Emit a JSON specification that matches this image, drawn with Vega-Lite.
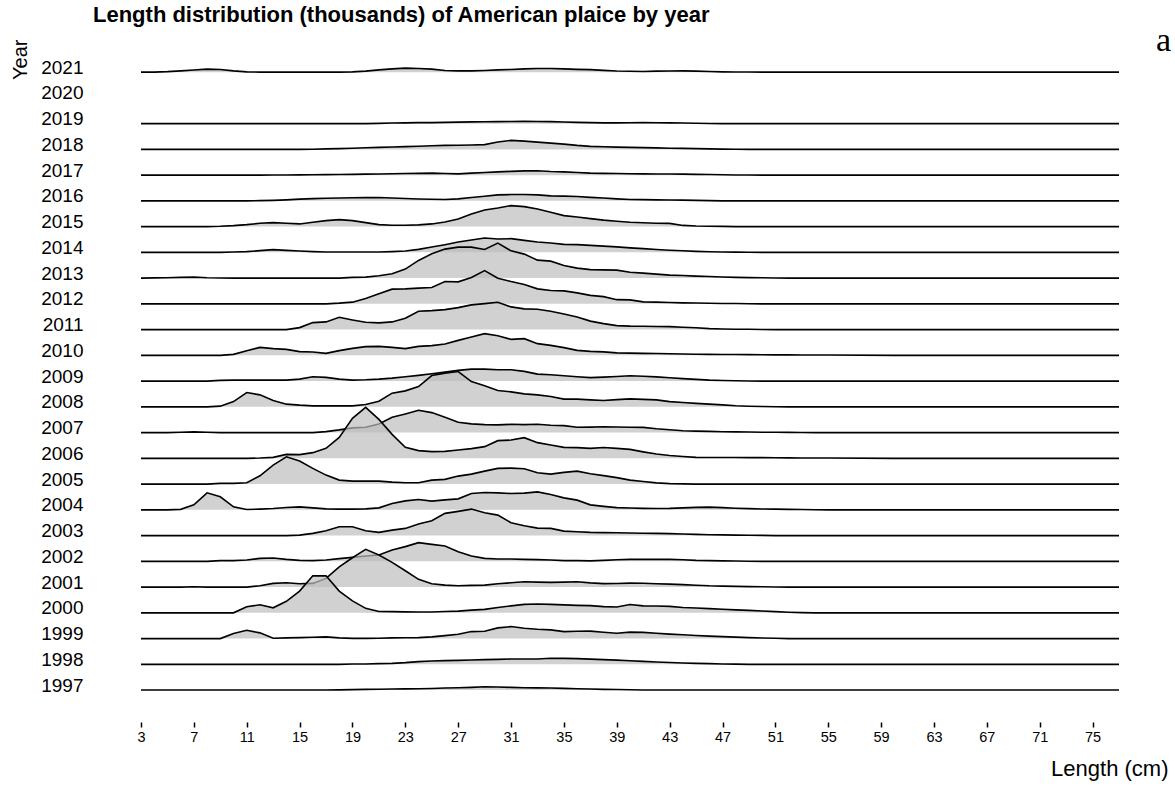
{
"$schema":"https://vega.github.io/schema/vega-lite/v6.json",
"width":978,"height":689,
"autosize":{"type":"none"},
"padding":{"left":141,"top":33,"right":56,"bottom":64},
"background":"white",
"config":{"view":{"stroke":null},"font":"Liberation Sans"},
"title":{"text":"Length distribution (thousands) of American plaice by year","anchor":"start","frame":"group","font":"Liberation Sans","fontSize":22,"fontWeight":"bold","color":"black","dx":-48,"dy":14,"offset":10},
"data":{"values":[
{"len":3,"2021":0,"2019":0,"2018":0,"2017":0,"2016":0,"2015":0,"2014":0,"2013":0,"2012":0,"2011":0,"2010":0,"2009":0,"2008":0,"2007":0,"2006":0,"2005":0,"2004":0,"2003":0,"2002":0,"2001":0,"2000":0,"1999":0,"1998":0,"1997":0},
{"len":4,"2021":0,"2019":0,"2018":0,"2017":0,"2016":0,"2015":0,"2014":0,"2013":0.2,"2012":0,"2011":0,"2010":0,"2009":0,"2008":0,"2007":0,"2006":0,"2005":0,"2004":0,"2003":0,"2002":0,"2001":0,"2000":0,"1999":0,"1998":0,"1997":0},
{"len":5,"2021":0.5,"2019":0,"2018":0,"2017":0,"2016":0,"2015":0,"2014":0,"2013":0.4,"2012":0,"2011":0,"2010":0,"2009":0,"2008":0,"2007":0,"2006":0,"2005":0,"2004":0,"2003":0,"2002":0,"2001":0,"2000":0,"1999":0,"1998":0,"1997":0},
{"len":6,"2021":1.3,"2019":0,"2018":0,"2017":0,"2016":0,"2015":0,"2014":0,"2013":0.7,"2012":0,"2011":0,"2010":0,"2009":0,"2008":0,"2007":0.3,"2006":0,"2005":0,"2004":0.5,"2003":0,"2002":0,"2001":0,"2000":0,"1999":0,"1998":0,"1997":0},
{"len":7,"2021":2.2,"2019":0,"2018":0,"2017":0,"2016":0,"2015":0,"2014":0,"2013":1,"2012":0,"2011":0,"2010":0,"2009":0,"2008":0,"2007":0.7,"2006":0,"2005":0,"2004":5,"2003":0,"2002":0,"2001":0.3,"2000":0,"1999":0,"1998":0,"1997":0},
{"len":8,"2021":3,"2019":0,"2018":0,"2017":0,"2016":0,"2015":0,"2014":0,"2013":0.4,"2012":0,"2011":0,"2010":0,"2009":0,"2008":0,"2007":0.3,"2006":0,"2005":0,"2004":17,"2003":0,"2002":0,"2001":0,"2000":0,"1999":0,"1998":0,"1997":0},
{"len":9,"2021":2.7,"2019":0,"2018":0,"2017":0,"2016":0,"2015":0.3,"2014":0,"2013":0.1,"2012":0,"2011":0,"2010":0,"2009":0.7,"2008":0.7,"2007":0,"2006":0,"2005":0.7,"2004":13,"2003":0,"2002":0.7,"2001":0,"2000":0,"1999":0,"1998":0,"1997":0},
{"len":10,"2021":1.3,"2019":0,"2018":0,"2017":0,"2016":0,"2015":1,"2014":0.3,"2013":0,"2012":0,"2011":0,"2010":1,"2009":1,"2008":5.3,"2007":0,"2006":0,"2005":0.7,"2004":3,"2003":0,"2002":0.7,"2001":0,"2000":0,"1999":5,"1998":0,"1997":0},
{"len":11,"2021":0.3,"2019":0,"2018":0,"2017":0,"2016":0,"2015":2,"2014":0.7,"2013":0,"2012":0,"2011":0,"2010":4.7,"2009":1,"2008":14.3,"2007":0,"2006":0,"2005":1.3,"2004":0.3,"2003":0,"2002":1.3,"2001":0,"2000":6,"1999":8.3,"1998":0,"1997":0},
{"len":12,"2021":0,"2019":0,"2018":0,"2017":0,"2016":0.2,"2015":3.3,"2014":1.7,"2013":0,"2012":0,"2011":0,"2010":8,"2009":1,"2008":12,"2007":0,"2006":0.3,"2005":8.3,"2004":0.7,"2003":0,"2002":3,"2001":1.3,"2000":8,"1999":5.7,"1998":0,"1997":0},
{"len":13,"2021":0,"2019":0,"2018":0,"2017":0.1,"2016":0.5,"2015":4,"2014":2.7,"2013":0,"2012":0,"2011":0,"2010":6.7,"2009":1,"2008":6.3,"2007":0,"2006":1,"2005":19,"2004":1.3,"2003":0,"2002":3.3,"2001":3.7,"2000":5,"1999":0.3,"1998":0,"1997":0},
{"len":14,"2021":0,"2019":0,"2018":0,"2017":0.2,"2016":1,"2015":3.3,"2014":2,"2013":0,"2012":0,"2011":0,"2010":6,"2009":1,"2008":2.7,"2007":0,"2006":4,"2005":27.3,"2004":2.3,"2003":0,"2002":2,"2001":4.3,"2000":11.5,"1999":0.7,"1998":0,"1997":0},
{"len":15,"2021":0,"2019":0,"2018":0,"2017":0.3,"2016":1.7,"2015":2.7,"2014":1.3,"2013":0,"2012":0,"2011":2,"2010":3.7,"2009":2,"2008":1.7,"2007":0,"2006":3.7,"2005":23,"2004":3,"2003":0.5,"2002":1,"2001":3.3,"2000":21.7,"1999":1,"1998":0,"1997":0},
{"len":16,"2021":0,"2019":0,"2018":0.2,"2017":0.4,"2016":2.2,"2015":4.3,"2014":0.7,"2013":0,"2012":0,"2011":7,"2010":3.3,"2009":4.3,"2008":1,"2007":0,"2006":5.7,"2005":15.7,"2004":2,"2003":2.2,"2002":0.7,"2001":3.7,"2000":37,"1999":1.3,"1998":0,"1997":0},
{"len":17,"2021":0,"2019":0,"2018":0.5,"2017":0.5,"2016":2.6,"2015":6,"2014":0.3,"2013":0,"2012":0,"2011":7.7,"2010":2,"2009":3.7,"2008":1,"2007":1,"2006":10,"2005":9,"2004":1,"2003":4.8,"2002":1.3,"2001":8.7,"2000":37,"1999":1.7,"1998":0,"1997":0},
{"len":18,"2021":0,"2019":0,"2018":0.8,"2017":0.6,"2016":2.9,"2015":7,"2014":0.3,"2013":0,"2012":0.7,"2011":12.3,"2010":4.7,"2009":2,"2008":1,"2007":2.7,"2006":21,"2005":4,"2004":0.7,"2003":8.8,"2002":2.7,"2001":20.3,"2000":21.7,"1999":0.7,"1998":0,"1997":0.2},
{"len":19,"2021":0.3,"2019":0,"2018":1.2,"2017":0.8,"2016":3.1,"2015":6,"2014":0.3,"2013":0.7,"2012":1.7,"2011":9.7,"2010":7,"2009":1,"2008":1,"2007":4.7,"2006":40,"2005":3,"2004":0.7,"2003":8.8,"2002":4,"2001":29.3,"2000":12,"1999":0.2,"1998":0.3,"1997":0.4},
{"len":20,"2021":1,"2019":0,"2018":1.7,"2017":1,"2016":3.2,"2015":4,"2014":0.3,"2013":1,"2012":5.3,"2011":7.3,"2010":8.7,"2009":1.3,"2008":2.3,"2007":5.3,"2006":51,"2005":3,"2004":1,"2003":4.8,"2002":5.3,"2001":37.7,"2000":4.5,"1999":0.2,"1998":0.4,"1997":0.7},
{"len":21,"2021":2.3,"2019":0.3,"2018":2,"2017":1.2,"2016":3.3,"2015":2,"2014":0.3,"2013":2.3,"2012":10,"2011":6.7,"2010":9,"2009":2,"2008":5.7,"2007":8.7,"2006":39,"2005":3,"2004":2,"2003":3.2,"2002":6.3,"2001":32,"2000":1.3,"1999":0.3,"1998":0.7,"1997":0.8},
{"len":22,"2021":3.3,"2019":0.6,"2018":2.4,"2017":1.4,"2016":2.8,"2015":1.3,"2014":0.7,"2013":4.3,"2012":14.7,"2011":7.7,"2010":8,"2009":3,"2008":13.7,"2007":15.3,"2006":24,"2005":2,"2004":6.3,"2003":5.5,"2002":11.3,"2001":24.7,"2000":1.2,"1999":0.7,"1998":1,"1997":1},
{"len":23,"2021":4,"2019":0.8,"2018":2.8,"2017":1.6,"2016":2.3,"2015":1.3,"2014":1.3,"2013":9,"2012":15,"2011":11.3,"2010":6.7,"2009":4.3,"2008":16,"2007":18.7,"2006":11,"2005":1.3,"2004":9,"2003":7.2,"2002":14.7,"2001":16.3,"2000":1,"1999":0.8,"1998":1.7,"1997":1.2},
{"len":24,"2021":3.7,"2019":1,"2018":3.2,"2017":1.8,"2016":1.9,"2015":1.7,"2014":3,"2013":17.7,"2012":15.7,"2011":18.3,"2010":9,"2009":5.7,"2008":20.3,"2007":22.3,"2006":7.7,"2005":1.3,"2004":10.3,"2003":11.5,"2002":18.7,"2001":7.7,"2000":0.8,"1999":1,"1998":2.7,"1997":1.3},
{"len":25,"2021":3,"2019":1,"2018":3.7,"2017":2,"2016":1.6,"2015":2.7,"2014":5.3,"2013":24.3,"2012":16.3,"2011":19,"2010":9.7,"2009":7.3,"2008":31.3,"2007":20,"2006":6.7,"2005":4,"2004":8.7,"2003":14.8,"2002":17,"2001":3.3,"2000":0.8,"1999":1.7,"1998":3.3,"1997":1.6},
{"len":26,"2021":1.7,"2019":1.3,"2018":4,"2017":1.6,"2016":1.3,"2015":4.7,"2014":7.7,"2013":29,"2012":22.3,"2011":20,"2010":11.3,"2009":9,"2008":33.7,"2007":15.3,"2006":7,"2005":4.7,"2004":10,"2003":22.2,"2002":15.3,"2001":2,"2000":1.3,"1999":3,"1998":3.7,"1997":2},
{"len":27,"2021":1.3,"2019":1.5,"2018":4.2,"2017":1.3,"2016":2,"2015":7.7,"2014":10.3,"2013":31,"2012":22,"2011":22,"2010":15,"2009":10.7,"2008":35.3,"2007":10.3,"2006":8.3,"2005":8,"2004":11,"2003":24.2,"2002":9.7,"2001":1.3,"2000":1.7,"1999":4.3,"1998":4,"1997":2.3},
{"len":28,"2021":1.3,"2019":1.8,"2018":4.4,"2017":2,"2016":3.3,"2015":12.7,"2014":12.3,"2013":31,"2012":26.3,"2011":24.7,"2010":18.3,"2009":12,"2008":25.3,"2007":8.7,"2006":9.7,"2005":10,"2004":16.3,"2003":26.5,"2002":5.3,"2001":1.7,"2000":2.7,"1999":7,"1998":4.3,"1997":2.7},
{"len":29,"2021":1.7,"2019":1.9,"2018":4.8,"2017":2.7,"2016":4.7,"2015":16.7,"2014":14.3,"2013":28.7,"2012":33.3,"2011":26,"2010":21.7,"2009":12,"2008":21,"2007":8,"2006":11.7,"2005":13,"2004":17.3,"2003":22.8,"2002":3,"2001":2,"2000":3.5,"1999":7.3,"1998":4.7,"1997":3.3},
{"len":30,"2021":2.3,"2019":2,"2018":7.3,"2017":3.3,"2016":6,"2015":18.7,"2014":13.3,"2013":35,"2012":25.7,"2011":27.3,"2010":19.7,"2009":11.3,"2008":16.3,"2007":7.7,"2006":17.7,"2005":15.7,"2004":17,"2003":20.5,"2002":2.3,"2001":3.3,"2000":5.3,"1999":10.7,"1998":5,"1997":3},
{"len":31,"2021":2.7,"2019":2.1,"2018":9,"2017":3.8,"2016":6.3,"2015":21,"2014":13.7,"2013":27.3,"2012":22.3,"2011":22.7,"2010":16,"2009":11.3,"2008":15,"2007":8.3,"2006":18.3,"2005":16,"2004":16.3,"2003":12.8,"2002":2.3,"2001":4.3,"2000":7,"1999":12,"1998":5.3,"1997":2.7},
{"len":32,"2021":3.3,"2019":2.3,"2018":8.3,"2017":4.3,"2016":6.3,"2015":20,"2014":12,"2013":24,"2012":19.3,"2011":20.7,"2010":16.7,"2009":9.7,"2008":13,"2007":8,"2006":20.7,"2005":15.3,"2004":16.7,"2003":9.8,"2002":2,"2001":5.3,"2000":8.5,"1999":10.3,"1998":5.3,"1997":2.3},
{"len":33,"2021":3.7,"2019":2.2,"2018":7.3,"2017":4.3,"2016":6,"2015":17.7,"2014":10.3,"2013":18,"2012":15,"2011":20.3,"2010":11.7,"2009":7,"2008":12,"2007":8.3,"2006":15.7,"2005":11.3,"2004":18,"2003":7.5,"2002":1.7,"2001":5,"2000":8.8,"1999":9.3,"1998":5.3,"1997":2.2},
{"len":34,"2021":3.7,"2019":2,"2018":6.3,"2017":3.6,"2016":5,"2015":14.3,"2014":9.3,"2013":17,"2012":13.3,"2011":18.3,"2010":10,"2009":6.3,"2008":10.3,"2007":7.3,"2006":13.3,"2005":10,"2004":15.3,"2003":7.2,"2002":1.3,"2001":4.7,"2000":8.5,"1999":8.7,"1998":6,"1997":2},
{"len":35,"2021":3.3,"2019":1.7,"2018":5.3,"2017":3.3,"2016":4.7,"2015":11,"2014":8,"2013":12.7,"2012":13,"2011":15.7,"2010":7.7,"2009":5.3,"2008":7.7,"2007":7,"2006":11,"2005":11.7,"2004":12,"2003":4.5,"2002":0.7,"2001":5,"2000":8,"1999":7,"1998":6,"1997":1.7},
{"len":36,"2021":2.8,"2019":1.3,"2018":4,"2017":2.7,"2016":4.3,"2015":9.7,"2014":7.7,"2013":10,"2012":11,"2011":12.7,"2010":5,"2009":4.3,"2008":7.7,"2007":5.3,"2006":10.7,"2005":13,"2004":9.7,"2003":3.8,"2002":0.7,"2001":5.3,"2000":7.5,"1999":7.3,"1998":5.7,"1997":1.3},
{"len":37,"2021":2.5,"2019":1,"2018":3,"2017":2,"2016":3.5,"2015":8,"2014":7,"2013":8.5,"2012":8.5,"2011":8.5,"2010":4,"2009":3.5,"2008":7,"2007":5.5,"2006":10,"2005":10.3,"2004":5,"2003":3.2,"2002":0.5,"2001":4.2,"2000":7.2,"1999":7.5,"1998":5.2,"1997":1},
{"len":38,"2021":1.8,"2019":0.8,"2018":2.7,"2017":1.8,"2016":2.8,"2015":6.5,"2014":6.2,"2013":8.2,"2012":7.2,"2011":6,"2010":3.5,"2009":4,"2008":6.4,"2007":5.8,"2006":10.8,"2005":8.5,"2004":3.5,"2003":3,"2002":1,"2001":3.5,"2000":6.2,"1999":6.4,"1998":4.7,"1997":0.7},
{"len":39,"2021":1.2,"2019":0.8,"2018":2.3,"2017":1.6,"2016":2,"2015":5.3,"2014":5.5,"2013":8,"2012":4.2,"2011":4,"2010":2.5,"2009":4.6,"2008":7.2,"2007":5.6,"2006":10,"2005":6.5,"2004":2.2,"2003":2.8,"2002":1.6,"2001":3.6,"2000":5.8,"1999":5.4,"1998":4.2,"1997":0.5},
{"len":40,"2021":0.9,"2019":0.9,"2018":2,"2017":1.4,"2016":1.4,"2015":4.3,"2014":4.5,"2013":5.8,"2012":4,"2011":3.5,"2010":2.2,"2009":5.3,"2008":8,"2007":5.4,"2006":9,"2005":4,"2004":1.8,"2003":2.6,"2002":2,"2001":4,"2000":8.3,"1999":6.5,"1998":3.6,"1997":0.3},
{"len":41,"2021":0.7,"2019":1,"2018":1.8,"2017":1.3,"2016":1.2,"2015":3.8,"2014":3.7,"2013":5,"2012":2,"2011":3.3,"2010":2,"2009":4.8,"2008":7.5,"2007":5.2,"2006":6.5,"2005":2.6,"2004":1.5,"2003":2.4,"2002":2,"2001":3.8,"2000":7,"1999":6.2,"1998":3,"1997":0.1},
{"len":42,"2021":1,"2019":0.9,"2018":1.5,"2017":1.2,"2016":1,"2015":3.4,"2014":2.8,"2013":4,"2012":1.7,"2011":3.1,"2010":1.8,"2009":4.2,"2008":7,"2007":3.8,"2006":4.3,"2005":1.2,"2004":1.3,"2003":2.2,"2002":2,"2001":3.4,"2000":6.8,"1999":5.4,"1998":2.4,"1997":0},
{"len":43,"2021":1.2,"2019":0.8,"2018":1.2,"2017":1.1,"2016":0.8,"2015":3.2,"2014":2.1,"2013":3,"2012":1.4,"2011":3,"2010":1.6,"2009":3.3,"2008":5.2,"2007":2.8,"2006":2.8,"2005":0.5,"2004":1.5,"2003":2,"2002":2,"2001":3,"2000":6.5,"1999":4.5,"1998":1.8,"1997":0},
{"len":44,"2021":1.3,"2019":0.7,"2018":1,"2017":1,"2016":0.7,"2015":1.2,"2014":1.6,"2013":2.6,"2012":1,"2011":2.4,"2010":1.3,"2009":2.5,"2008":4.3,"2007":1.8,"2006":1.8,"2005":0.2,"2004":2,"2003":1.6,"2002":1.6,"2001":2.5,"2000":5.3,"1999":3.8,"1998":1.3,"1997":0},
{"len":45,"2021":1,"2019":0.4,"2018":0.8,"2017":0.8,"2016":0.5,"2015":0.6,"2014":1,"2013":2,"2012":0.8,"2011":1.8,"2010":1.1,"2009":1.7,"2008":3.5,"2007":1.5,"2006":1,"2005":0,"2004":2.5,"2003":1.2,"2002":1,"2001":1.9,"2000":4.8,"1999":3.1,"1998":1,"1997":0},
{"len":46,"2021":0.6,"2019":0.2,"2018":0.5,"2017":0.6,"2016":0.2,"2015":0.4,"2014":0.6,"2013":1.6,"2012":0.6,"2011":1,"2010":1,"2009":1,"2008":2.7,"2007":1.2,"2006":0.9,"2005":0,"2004":2.7,"2003":0.9,"2002":0.7,"2001":1.3,"2000":4.2,"1999":2.5,"1998":0.7,"1997":0},
{"len":47,"2021":0.3,"2019":0,"2018":0.3,"2017":0.4,"2016":0,"2015":0.2,"2014":0.3,"2013":1.1,"2012":0.4,"2011":0.6,"2010":0.9,"2009":0.6,"2008":2,"2007":0.9,"2006":0.8,"2005":0,"2004":2.2,"2003":0.7,"2002":0.5,"2001":1,"2000":3.6,"1999":2,"1998":0.4,"1997":0},
{"len":48,"2021":0.2,"2019":0,"2018":0.1,"2017":0.2,"2016":0,"2015":0,"2014":0.2,"2013":0.7,"2012":0.3,"2011":0.4,"2010":0.8,"2009":0.3,"2008":1.1,"2007":0.7,"2006":0.8,"2005":0,"2004":1.6,"2003":0.5,"2002":0.3,"2001":0.7,"2000":3,"1999":1.5,"1998":0.2,"1997":0},
{"len":49,"2021":0.1,"2019":0,"2018":0,"2017":0.1,"2016":0,"2015":0,"2014":0.1,"2013":0.5,"2012":0.1,"2011":0.3,"2010":0.7,"2009":0.1,"2008":0.6,"2007":0.6,"2006":0.7,"2005":0,"2004":1.2,"2003":0.3,"2002":0.1,"2001":0.5,"2000":2.5,"1999":1,"1998":0,"1997":0},
{"len":50,"2021":0,"2019":0,"2018":0,"2017":0,"2016":0,"2015":0,"2014":0,"2013":0.3,"2012":0,"2011":0.1,"2010":0.6,"2009":0,"2008":0.3,"2007":0.4,"2006":0.7,"2005":0,"2004":0.9,"2003":0.2,"2002":0,"2001":0.3,"2000":1.8,"1999":0.6,"1998":0,"1997":0},
{"len":51,"2021":0,"2019":0,"2018":0,"2017":0,"2016":0,"2015":0,"2014":0,"2013":0.1,"2012":0,"2011":0,"2010":0.5,"2009":0,"2008":0.1,"2007":0.3,"2006":0.6,"2005":0,"2004":0.7,"2003":0,"2002":0,"2001":0.1,"2000":1.2,"1999":0.3,"1998":0,"1997":0},
{"len":52,"2021":0,"2019":0,"2018":0,"2017":0,"2016":0,"2015":0,"2014":0,"2013":0,"2012":0,"2011":0,"2010":0.5,"2009":0,"2008":0,"2007":0.2,"2006":0.5,"2005":0,"2004":0.5,"2003":0,"2002":0,"2001":0,"2000":0.6,"1999":0,"1998":0,"1997":0},
{"len":53,"2021":0,"2019":0,"2018":0,"2017":0,"2016":0,"2015":0,"2014":0,"2013":0,"2012":0,"2011":0,"2010":0.4,"2009":0,"2008":0,"2007":0.1,"2006":0.4,"2005":0,"2004":0.3,"2003":0,"2002":0,"2001":0,"2000":0.2,"1999":0,"1998":0,"1997":0},
{"len":54,"2021":0,"2019":0,"2018":0,"2017":0,"2016":0,"2015":0,"2014":0,"2013":0,"2012":0,"2011":0,"2010":0.4,"2009":0,"2008":0,"2007":0,"2006":0.4,"2005":0,"2004":0.1,"2003":0,"2002":0,"2001":0,"2000":0,"1999":0,"1998":0,"1997":0},
{"len":55,"2021":0,"2019":0,"2018":0,"2017":0,"2016":0,"2015":0,"2014":0,"2013":0,"2012":0,"2011":0,"2010":0.3,"2009":0,"2008":0,"2007":0,"2006":0.3,"2005":0,"2004":0,"2003":0,"2002":0,"2001":0,"2000":0,"1999":0,"1998":0,"1997":0},
{"len":60,"2021":0,"2019":0,"2018":0,"2017":0,"2016":0,"2015":0,"2014":0,"2013":0,"2012":0,"2011":0,"2010":0,"2009":0,"2008":0,"2007":0,"2006":0,"2005":0,"2004":0,"2003":0,"2002":0,"2001":0,"2000":0,"1999":0,"1998":0,"1997":0},
{"len":77,"2021":0,"2019":0,"2018":0,"2017":0,"2016":0,"2015":0,"2014":0,"2013":0,"2012":0,"2011":0,"2010":0,"2009":0,"2008":0,"2007":0,"2006":0,"2005":0,"2004":0,"2003":0,"2002":0,"2001":0,"2000":0,"1999":0,"1998":0,"1997":0}
]},
"transform":[
{"fold":["2021","2019","2018","2017","2016","2015","2014","2013","2012","2011","2010","2009","2008","2007","2006","2005","2004","2003","2002","2001","2000","1999","1998","1997"],"as":["yr","n"]},
{"calculate":"toNumber(datum.yr)","as":"year"},
{"calculate":"datum.year + datum.n/25.75","as":"top"}
],
"layer":[
{"encoding":{
"x":{"field":"len","type":"quantitative","scale":{"domain":[3,77],"nice":false,"zero":false},
"axis":{"values":[3,7,11,15,19,23,27,31,35,39,43,47,51,55,59,63,67,71,75],"domain":false,"grid":false,"tickSize":5,"tickWidth":1.5,"tickColor":"black","labelFontSize":14.5,"labelColor":"black","labelPadding":3,"labelFlush":false,"labelOverlap":false,"title":"Length (cm)","titleFontSize":22,"titleFontWeight":"normal","titleColor":"black","titleX":1027,"titleY":46,"titleAlign":"right","titleBaseline":"middle"}},
"y":{"field":"top","type":"quantitative","scale":{"domain":[1995.76,2022.52],"nice":false,"zero":false},
"axis":{"values":[1997,1998,1999,2000,2001,2002,2003,2004,2005,2006,2007,2008,2009,2010,2011,2012,2013,2014,2015,2016,2017,2018,2019,2020,2021],"format":"d","domain":false,"grid":false,"ticks":false,"tickSize":0,"labelPadding":58,"labelFontSize":19,"labelColor":"black","labelOffset":-5,"labelFlush":false,"labelOverlap":false,"title":"Year","titleFontSize":20,"titleFontWeight":"normal","titleColor":"black","titleAngle":270,"titleX":-121,"titleY":6,"titleAlign":"right","titleBaseline":"middle"}}
},
"layer":[
{"transform":[{"filter":"datum.yr==='2021'"}],"layer":[{"mark":{"type":"area","fill":"#bebebe","fillOpacity":0.7},"encoding":{"y2":{"field":"year"}}},{"mark":{"type":"line","color":"black","strokeWidth":1.6}}]},
{"transform":[{"filter":"datum.yr==='2019'"}],"layer":[{"mark":{"type":"area","fill":"#bebebe","fillOpacity":0.7},"encoding":{"y2":{"field":"year"}}},{"mark":{"type":"line","color":"black","strokeWidth":1.6}}]},
{"transform":[{"filter":"datum.yr==='2018'"}],"layer":[{"mark":{"type":"area","fill":"#bebebe","fillOpacity":0.7},"encoding":{"y2":{"field":"year"}}},{"mark":{"type":"line","color":"black","strokeWidth":1.6}}]},
{"transform":[{"filter":"datum.yr==='2017'"}],"layer":[{"mark":{"type":"area","fill":"#bebebe","fillOpacity":0.7},"encoding":{"y2":{"field":"year"}}},{"mark":{"type":"line","color":"black","strokeWidth":1.6}}]},
{"transform":[{"filter":"datum.yr==='2016'"}],"layer":[{"mark":{"type":"area","fill":"#bebebe","fillOpacity":0.7},"encoding":{"y2":{"field":"year"}}},{"mark":{"type":"line","color":"black","strokeWidth":1.6}}]},
{"transform":[{"filter":"datum.yr==='2015'"}],"layer":[{"mark":{"type":"area","fill":"#bebebe","fillOpacity":0.7},"encoding":{"y2":{"field":"year"}}},{"mark":{"type":"line","color":"black","strokeWidth":1.6}}]},
{"transform":[{"filter":"datum.yr==='2014'"}],"layer":[{"mark":{"type":"area","fill":"#bebebe","fillOpacity":0.7},"encoding":{"y2":{"field":"year"}}},{"mark":{"type":"line","color":"black","strokeWidth":1.6}}]},
{"transform":[{"filter":"datum.yr==='2013'"}],"layer":[{"mark":{"type":"area","fill":"#bebebe","fillOpacity":0.7},"encoding":{"y2":{"field":"year"}}},{"mark":{"type":"line","color":"black","strokeWidth":1.6}}]},
{"transform":[{"filter":"datum.yr==='2012'"}],"layer":[{"mark":{"type":"area","fill":"#bebebe","fillOpacity":0.7},"encoding":{"y2":{"field":"year"}}},{"mark":{"type":"line","color":"black","strokeWidth":1.6}}]},
{"transform":[{"filter":"datum.yr==='2011'"}],"layer":[{"mark":{"type":"area","fill":"#bebebe","fillOpacity":0.7},"encoding":{"y2":{"field":"year"}}},{"mark":{"type":"line","color":"black","strokeWidth":1.6}}]},
{"transform":[{"filter":"datum.yr==='2010'"}],"layer":[{"mark":{"type":"area","fill":"#bebebe","fillOpacity":0.7},"encoding":{"y2":{"field":"year"}}},{"mark":{"type":"line","color":"black","strokeWidth":1.6}}]},
{"transform":[{"filter":"datum.yr==='2009'"}],"layer":[{"mark":{"type":"area","fill":"#bebebe","fillOpacity":0.7},"encoding":{"y2":{"field":"year"}}},{"mark":{"type":"line","color":"black","strokeWidth":1.6}}]},
{"transform":[{"filter":"datum.yr==='2008'"}],"layer":[{"mark":{"type":"area","fill":"#bebebe","fillOpacity":0.7},"encoding":{"y2":{"field":"year"}}},{"mark":{"type":"line","color":"black","strokeWidth":1.6}}]},
{"transform":[{"filter":"datum.yr==='2007'"}],"layer":[{"mark":{"type":"area","fill":"#bebebe","fillOpacity":0.7},"encoding":{"y2":{"field":"year"}}},{"mark":{"type":"line","color":"black","strokeWidth":1.6}}]},
{"transform":[{"filter":"datum.yr==='2006'"}],"layer":[{"mark":{"type":"area","fill":"#bebebe","fillOpacity":0.7},"encoding":{"y2":{"field":"year"}}},{"mark":{"type":"line","color":"black","strokeWidth":1.6}}]},
{"transform":[{"filter":"datum.yr==='2005'"}],"layer":[{"mark":{"type":"area","fill":"#bebebe","fillOpacity":0.7},"encoding":{"y2":{"field":"year"}}},{"mark":{"type":"line","color":"black","strokeWidth":1.6}}]},
{"transform":[{"filter":"datum.yr==='2004'"}],"layer":[{"mark":{"type":"area","fill":"#bebebe","fillOpacity":0.7},"encoding":{"y2":{"field":"year"}}},{"mark":{"type":"line","color":"black","strokeWidth":1.6}}]},
{"transform":[{"filter":"datum.yr==='2003'"}],"layer":[{"mark":{"type":"area","fill":"#bebebe","fillOpacity":0.7},"encoding":{"y2":{"field":"year"}}},{"mark":{"type":"line","color":"black","strokeWidth":1.6}}]},
{"transform":[{"filter":"datum.yr==='2002'"}],"layer":[{"mark":{"type":"area","fill":"#bebebe","fillOpacity":0.7},"encoding":{"y2":{"field":"year"}}},{"mark":{"type":"line","color":"black","strokeWidth":1.6}}]},
{"transform":[{"filter":"datum.yr==='2001'"}],"layer":[{"mark":{"type":"area","fill":"#bebebe","fillOpacity":0.7},"encoding":{"y2":{"field":"year"}}},{"mark":{"type":"line","color":"black","strokeWidth":1.6}}]},
{"transform":[{"filter":"datum.yr==='2000'"}],"layer":[{"mark":{"type":"area","fill":"#bebebe","fillOpacity":0.7},"encoding":{"y2":{"field":"year"}}},{"mark":{"type":"line","color":"black","strokeWidth":1.6}}]},
{"transform":[{"filter":"datum.yr==='1999'"}],"layer":[{"mark":{"type":"area","fill":"#bebebe","fillOpacity":0.7},"encoding":{"y2":{"field":"year"}}},{"mark":{"type":"line","color":"black","strokeWidth":1.6}}]},
{"transform":[{"filter":"datum.yr==='1998'"}],"layer":[{"mark":{"type":"area","fill":"#bebebe","fillOpacity":0.7},"encoding":{"y2":{"field":"year"}}},{"mark":{"type":"line","color":"black","strokeWidth":1.6}}]},
{"transform":[{"filter":"datum.yr==='1997'"}],"layer":[{"mark":{"type":"area","fill":"#bebebe","fillOpacity":0.7},"encoding":{"y2":{"field":"year"}}},{"mark":{"type":"line","color":"black","strokeWidth":1.6}}]}
]},
{"transform":[{"filter":"datum.len===77 && datum.yr==='1997'"}],
"mark":{"type":"rule","opacity":0},
"encoding":{"x":{"field":"len","type":"quantitative","axis":{"orient":"top","title":"a","labels":false,"ticks":false,"domain":false,"grid":false,"titleFont":"Liberation Serif","titleFontSize":34,"titleFontWeight":"normal","titleColor":"black","titleX":1022,"titleY":17,"titleAlign":"center","titleBaseline":"alphabetic","titleAngle":0}}}}
],
"resolve":{"axis":{"x":"independent"}}
}
